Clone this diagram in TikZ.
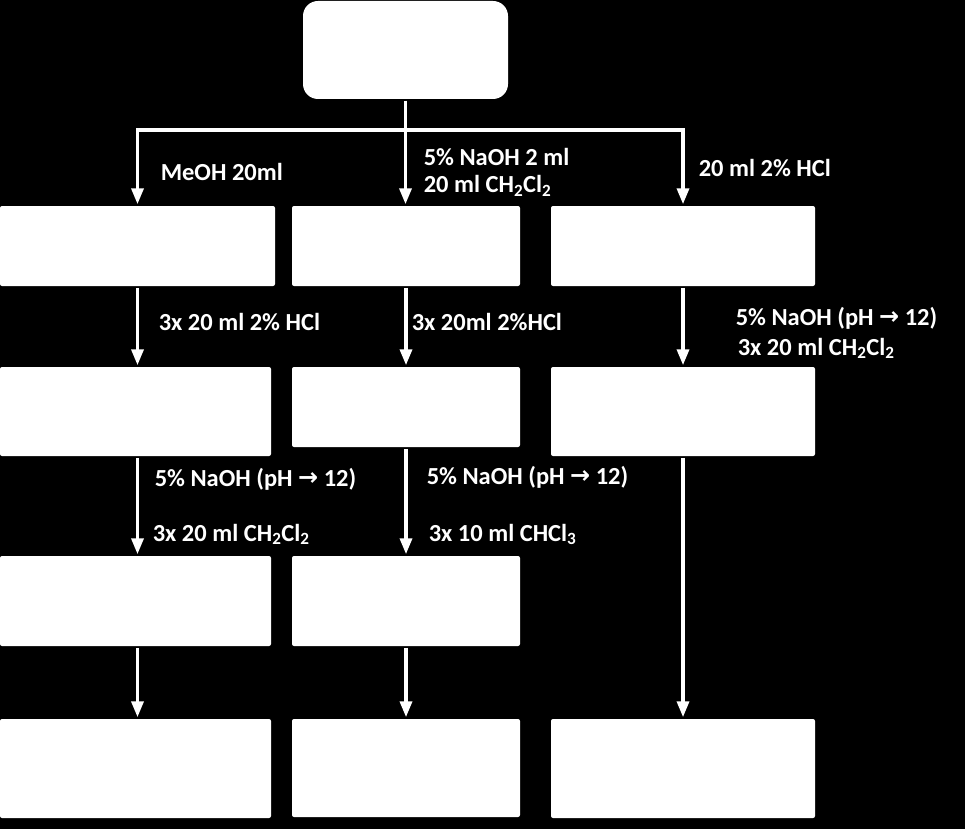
\documentclass[tikz,border=0pt]{standalone}
\usepackage{fontspec}
\setmainfont{Carlito}
\newfontfamily\arrowfont{DejaVu Sans}
\usepackage{tikz}
\usetikzlibrary{arrows.meta,positioning}
\newcommand{\phto}{\raisebox{1pt}{\arrowfont\fontsize{24}{28}\selectfont →}}

\begin{document}
\begin{tikzpicture}[x=1pt,y=-1pt,line width=3.5pt]
    \tikzstyle{box_node}=[rectangle,fill=white,draw=none,inner sep=0pt,rounded corners=2pt]
    \tikzstyle{step_label}=[anchor=base west,text=white,inner sep=0pt,font=\bfseries\fontsize{24.5}{29}\selectfont]
    \tikzstyle{flow}=[draw=white,-{Triangle[length=16pt,width=12pt]}]
    \fill[black] (0,0) rectangle (965,829);

    \node[box_node,rounded corners=15pt,minimum width=205pt,minimum height=98pt] (sample) at (405.5,50) {};

    \node[box_node,minimum width=275pt,minimum height=80pt] (a1) at (137.5,246) {};
    \node[box_node,minimum width=228pt,minimum height=80pt] (b1) at (406,246) {};
    \node[box_node,minimum width=264pt,minimum height=80pt] (c1) at (683,246) {};

    \node[box_node,minimum width=271pt,minimum height=89pt] (a2) at (135.5,411.5) {};
    \node[box_node,minimum width=228pt,minimum height=80pt] (b2) at (406,407) {};
    \node[box_node,minimum width=264pt,minimum height=89pt] (c2) at (683,411.5) {};

    \node[box_node,minimum width=271pt,minimum height=90pt] (a3) at (135.5,601) {};
    \node[box_node,minimum width=228pt,minimum height=90pt] (b3) at (406,601) {};

    \node[box_node,minimum width=271pt,minimum height=99pt] (a4) at (135.5,768.5) {};
    \node[box_node,minimum width=228pt,minimum height=98pt] (b4) at (406,768) {};
    \node[box_node,minimum width=264pt,minimum height=99pt] (c4) at (683,768.5) {};

    % split under the sample
    \coordinate (split) at (405.5,130);
    \draw[flow] (sample.south) -- (sample.south |- b1.north);
    \draw[flow] (split) -| (a1.north);
    \draw[flow] (split) -| (c1.north);

    \draw[flow] (a1.south) -- (a1.south |- a2.north);
    \draw[flow] (a1.south |- a2.south) -- (a1.south |- a3.north);
    \draw[flow] (a1.south |- a3.south) -- (a1.south |- a4.north);

    \draw[flow] (b1.south) -- (b1.south |- b2.north);
    \draw[flow] (b1.south |- b2.south) -- (b1.south |- b3.north);
    \draw[flow] (b1.south |- b3.south) -- (b1.south |- b4.north);

    \draw[flow] (c1.south) -- (c1.south |- c2.north);
    \draw[flow] (c1.south |- c2.south) -- (c1.south |- c4.north);

    \node[step_label] (meoh) at (159,180) {MeOH 20ml};
    \node[step_label] (naoh_a) at (422,165) {5\% NaOH 2 ml};
    \node[step_label] (dcm_a) at (422,193) {20 ml CH\textsubscript{2}Cl\textsubscript{2}};
    \node[step_label] (hcl_a) at (697,176) {20 ml 2\% HCl};

    \node[step_label] (hcl_b) at (157,330) {3x 20 ml 2\% HCl};
    \node[step_label] (hcl_c) at (410,330) {3x 20ml 2\%HCl};
    \node[step_label] (naoh_b) at (734,325) {5\% NaOH (pH \phto{} 12)};
    \node[step_label] (dcm_b) at (736,355) {3x 20 ml CH\textsubscript{2}Cl\textsubscript{2}};

    \node[step_label] (naoh_c) at (153,486) {5\% NaOH (pH \phto{} 12)};
    \node[step_label] (naoh_d) at (425,484) {5\% NaOH (pH \phto{} 12)};
    \node[step_label] (dcm_c) at (151,541) {3x 20 ml CH\textsubscript{2}Cl\textsubscript{2}};
    \node[step_label] (chcl) at (427,541) {3x 10 ml CHCl\textsubscript{3}};
\end{tikzpicture}
\end{document}
